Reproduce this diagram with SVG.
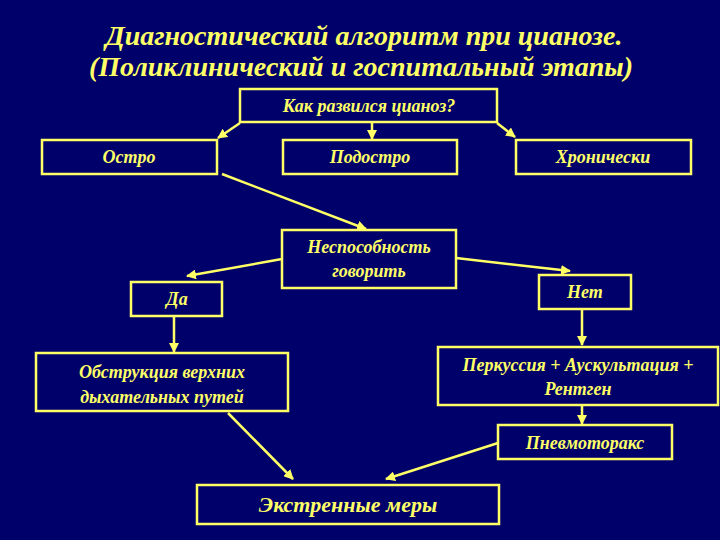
<svg xmlns="http://www.w3.org/2000/svg" width="720" height="540" viewBox="0 0 720 540">
<defs>
<style>
.bg{fill:#00006b}
.box{fill:#00006b;stroke:#ffff66;stroke-width:2.5}
.t{font-family:"Liberation Serif","Times New Roman",serif;font-style:italic;font-weight:bold;fill:#ffff66;text-anchor:middle}
.title{font-size:28px}
.n{font-size:18px}
.big{font-size:22px}
.c{stroke:#ffff66;stroke-width:2.5;fill:none;marker-end:url(#ah)}
</style>
<marker id="ah" viewBox="0 0 10 10" refX="9" refY="5" markerWidth="4" markerHeight="4" orient="auto" markerUnits="strokeWidth">
<path d="M0,0 L10,5 L0,10 z" fill="#ffff66"/>
</marker>
</defs>
<rect class="bg" x="0" y="0" width="720" height="540"/>
<g id="title">
<text class="t title" x="364" y="45">Диагностический алгоритм при цианозе.</text>
<text class="t title" x="361" y="76">(Поликлинический и госпитальный этапы)</text>
</g>
<g id="connectors">
<line class="c" x1="240" y1="123" x2="218" y2="138"/>
<line class="c" x1="372" y1="123" x2="372" y2="139"/>
<line class="c" x1="497" y1="123" x2="515" y2="137"/>
<line class="c" x1="222" y1="174" x2="366" y2="229"/>
<line class="c" x1="282" y1="259" x2="187" y2="276"/>
<line class="c" x1="456" y1="258" x2="570" y2="271"/>
<line class="c" x1="174" y1="316" x2="174" y2="352"/>
<line class="c" x1="582" y1="310" x2="582" y2="345"/>
<line class="c" x1="582" y1="406" x2="582" y2="424"/>
<line class="c" x1="228" y1="413" x2="293" y2="479"/>
<line class="c" x1="498" y1="443" x2="386" y2="479"/>
</g>
<g id="n-kak"><rect class="box" x="240" y="89" width="257" height="33"/><text class="t n" x="369" y="112">Как развился цианоз?</text></g>
<g id="n-ostro"><rect class="box" x="42" y="140" width="175" height="34"/><text class="t n" x="129" y="163">Остро</text></g>
<g id="n-podostro"><rect class="box" x="283" y="140" width="174" height="34"/><text class="t n" x="370" y="163">Подостро</text></g>
<g id="n-hron"><rect class="box" x="516" y="140" width="175" height="34"/><text class="t n" x="603" y="163">Хронически</text></g>
<g id="n-nesp"><rect class="box" x="282" y="230" width="174" height="58"/><text class="t n" x="369" y="253">Неспособность</text><text class="t n" x="369" y="277">говорить</text></g>
<g id="n-da"><rect class="box" x="131" y="282" width="91" height="34"/><text class="t n" x="177" y="305">Да</text></g>
<g id="n-net"><rect class="box" x="539" y="275" width="92" height="34"/><text class="t n" x="585" y="298">Нет</text></g>
<g id="n-obstr"><rect class="box" x="36" y="353" width="252" height="58"/><text class="t n" x="162" y="378">Обструкция верхних</text><text class="t n" x="162" y="403">дыхательных путей</text></g>
<g id="n-perk"><rect class="box" x="438" y="347" width="280" height="58"/><text class="t n" x="578" y="371">Перкуссия + Аускультация +</text><text class="t n" x="578" y="395">Рентген</text></g>
<g id="n-pnevmo"><rect class="box" x="498" y="425" width="174" height="34"/><text class="t n" x="585" y="449">Пневмоторакс</text></g>
<g id="n-ekstr"><rect class="box" x="197" y="485" width="302" height="39"/><text class="t big" x="348" y="512">Экстренные меры</text></g>
</svg>
